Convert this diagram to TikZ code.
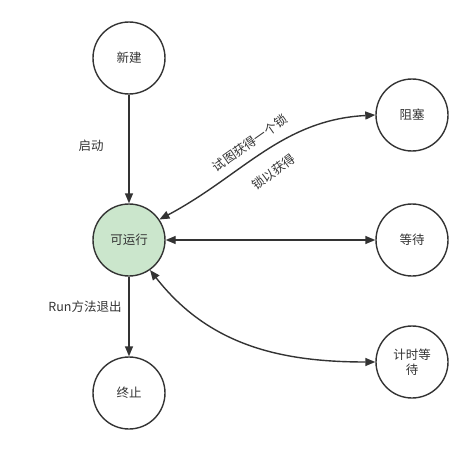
\documentclass[tikz,border=0pt]{standalone}
\usepackage{fontspec}
\setmainfont{Noto Sans CJK SC}
\usetikzlibrary{arrows.meta}
\definecolor{ink}{HTML}{333333}
\definecolor{runfill}{HTML}{CBE6CC}
\begin{document}
\begin{tikzpicture}[x=1pt,y=-1pt,
  state/.style={circle,draw=ink,line width=1.4pt,minimum size=72pt,inner sep=0pt,
    font=\fontsize{12.5}{15}\selectfont,text=ink,align=center},
  link/.style={draw=ink,line width=1.4pt,-{Triangle[length=10pt,width=8pt]}},
  both/.style={link,{Triangle[length=10pt,width=8pt]}-{Triangle[length=10pt,width=8pt]}},
  lbl/.style={font=\fontsize{12.5}{14}\selectfont,text=ink,inner sep=1pt}]
  \useasboundingbox (0,0) rectangle (472,455);
  % states
  \node[state] (new)   at (129,58)  {新建};
  \node[state,fill=runfill] (run) at (129,240) {可运行};
  \node[state] (term)  at (129,393) {终止};
  \node[state] (block) at (412,115) {阻塞};
  \node[state] (wait)  at (412,240) {等待};
  \node[state] (timed) at (412,362) {计时等\\待};
  % transitions
  \draw[link] (new) -- (run);
  \draw[link] (run) -- (term);
  \draw[both] (run.34) to[out=28,in=183] (block.west);
  \draw[both] (run.east) -- (wait.west);
  \draw[both] (run.-55) to[out=-52,in=180] (timed.west);
  % labels
  \node[lbl] (lstart) at (91,146) {启动};
  \node[lbl] (lexit) at (85,307) {Run方法退出};
  \node[lbl,rotate=35] (ltry) at (250,143) {试图获得一个锁};
  \node[lbl,rotate=37] (lgot) at (274,172) {锁以获得};
\end{tikzpicture}
\end{document}
